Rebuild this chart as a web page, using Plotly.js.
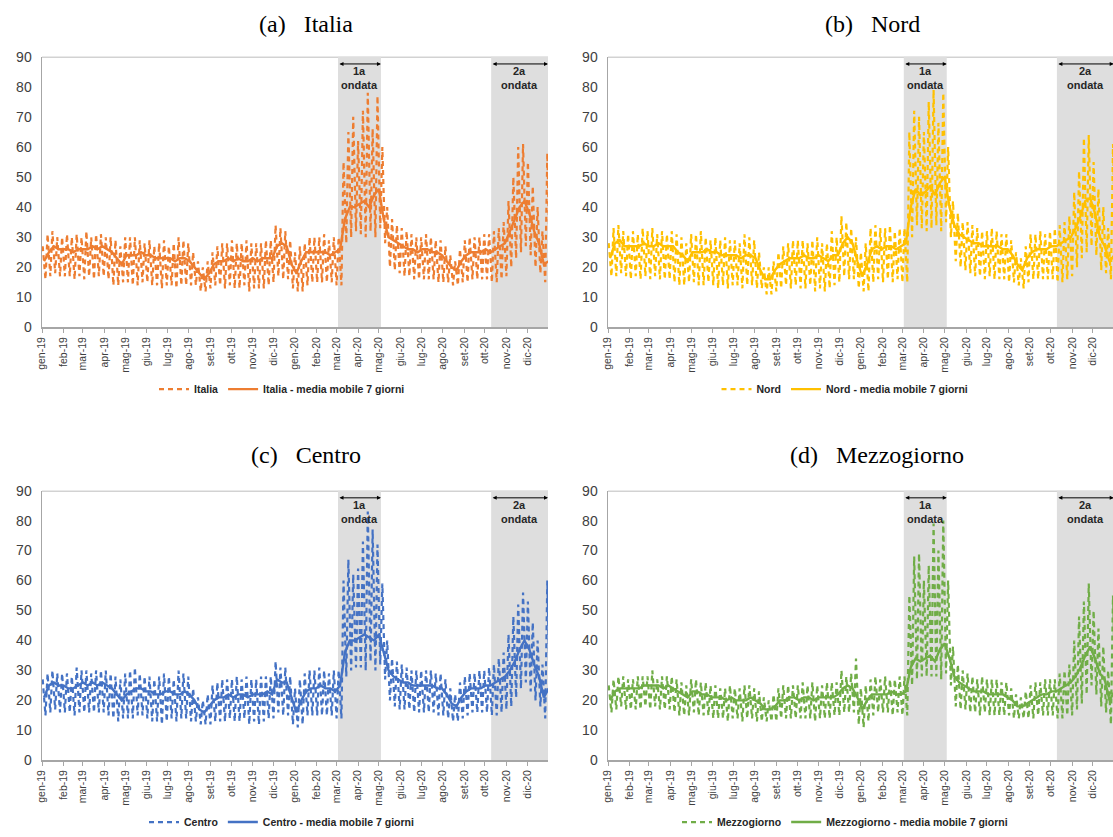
<!DOCTYPE html>
<html>
<head>
<meta charset="utf-8">
<script src="https://cdn.plot.ly/plotly-3.0.1.min.js"></script>
<style>html,body{margin:0;padding:0;background:#fff;}#chart{width:1113px;height:837px;}</style>
</head>
<body>
<div id="chart"></div>
<script>
// ---- Data (weekly readings from the picture; week i starts 2019-01-01 + 7*i) ----
const monthLabels = ["gen-19","feb-19","mar-19","apr-19","mag-19","giu-19","lug-19","ago-19","set-19","ott-19","nov-19","dic-19",
  "gen-20","feb-20","mar-20","apr-20","mag-20","giu-20","lug-20","ago-20","set-20","ott-20","nov-20","dic-20"];

// Italia
const italiaHigh = [27,31,32,30,30, 31,30,31,30, 32,30,31,31, 30,30,29,27,30, 30,30,29,28, 29,27,28,29, 27,28,30,29,28, 25,22,20,22, 25,27,28,28, 29,28,28,29,28, 28,28,29,29, 34,33,32,29,25,
  27,28,30,30, 30,31,29,30, 30,55,65,70,62, 72,78,66,77, 60,40,36,34, 33,32,31,30,30, 31,30,29,29, 27,24,22,26, 29,30,30,30,31, 31,32,33,35, 42,50,60,61, 55,47,40,32,58];
const italiaLow = [16,17,18,17,17, 17,16,17,16, 17,16,17,17, 16,14,14,15,15, 14,14,15,15, 14,14,13,14, 14,13,14,14,14, 14,12,12,13, 14,14,13,14, 13,13,14,12,13, 13,13,14,15, 17,16,16,13,12,
  12,14,15,15, 15,15,15,14, 14,28,30,32,31, 30,32,30,33, 28,20,19,18, 17,17,16,16,16, 16,16,15,15, 15,14,14,15, 15,16,16,16,16, 15,15,16,17, 20,23,25,27, 24,20,18,15,18];
const italiaMA = [22,25,27,26,26, 26,25,26,26, 26,27,26,27, 26,25,23,21,24, 24,24,25,24, 24,23,23,23, 23,22,23,23,22, 20,18,16,18, 21,22,22,23, 22,23,22,22,23, 22,23,23,23, 27,28,27,21,18,
  22,25,25,25, 25,25,24,25, 26,36,40,40,41, 42,40,44,46, 36,30,29,28, 27,26,26,25,26, 26,25,25,24, 22,20,19,22, 24,25,25,25,26, 25,26,27,28, 32,36,40,42, 38,32,28,21,22];

// Nord
const nordHigh = [28,33,34,32,31, 32,31,33,32, 33,31,32,31, 32,31,30,28,31, 31,32,30,29, 30,29,30,29, 29,28,31,30,29, 25,20,20,22, 25,27,28,29, 29,29,28,29,30, 28,28,32,30, 37,35,33,30,25,
  28,33,34,33, 33,34,32,33, 33,65,72,70,65, 75,79,68,78, 60,42,38,35, 35,34,33,32,32, 33,32,31,31, 29,25,23,27, 31,31,32,31,32, 33,34,35,37, 45,52,63,64, 55,46,40,33,61];
const nordLow = [17,17,18,17,16, 17,16,17,16, 17,16,16,16, 15,14,14,15,15, 14,14,15,14, 13,14,13,14, 14,13,14,14,13, 13,11,11,12, 13,14,13,14, 13,13,14,12,13, 12,13,14,15, 17,16,16,13,12,
  12,15,16,15, 16,15,16,15, 15,30,34,33,32, 33,34,32,35, 30,22,20,19, 18,17,17,16,17, 16,16,16,15, 15,14,13,15, 16,16,16,16,16, 15,15,16,17, 20,23,25,27, 24,19,18,16,18];
const nordMA = [23,28,29,27,27, 27,27,28,27, 27,28,27,27, 27,25,24,22,25, 25,25,26,25, 25,24,24,24, 24,23,24,24,23, 19,16,16,19, 21,22,23,23, 23,24,23,23,24, 23,22,24,24, 28,30,28,22,17,
  21,26,27,26, 27,27,26,27, 28,40,46,44,45, 47,44,48,50, 40,34,31,30, 29,28,28,27,27, 27,27,26,26, 24,21,19,23, 25,26,26,26,27, 27,28,29,30, 33,37,42,43, 38,30,27,22,24];

// Centro
const centroHigh = [27,29,30,29,29, 29,28,31,30, 30,29,30,30, 30,29,28,27,29, 30,31,29,28, 28,27,28,29, 28,27,30,29,28, 24,21,20,22, 25,26,27,27, 27,28,27,28,27, 27,28,28,28, 33,31,31,28,24,
  27,29,30,30, 31,30,29,30, 30,60,67,62,64, 73,83,77,72, 59,40,34,33, 32,31,30,30,30, 30,30,29,29, 27,24,22,26, 28,29,29,30,30, 31,32,34,36, 42,48,52,56, 53,46,40,32,60];
const centroLow = [15,16,17,16,16, 16,15,16,16, 16,16,16,16, 15,14,13,14,14, 14,15,15,14, 13,13,12,13, 14,13,14,14,13, 13,12,12,12, 13,13,13,14, 13,13,14,12,13, 12,13,14,14, 16,15,15,12,11,
  12,15,15,15, 15,15,15,14, 14,28,30,31,31, 30,33,30,32, 27,20,18,17, 17,17,16,16,16, 16,16,15,15, 14,13,13,14, 15,16,16,16,16, 15,15,16,17, 18,21,24,26, 23,20,18,14,17];
const centroMA = [21,25,26,25,25, 24,24,25,26, 25,26,25,26, 25,24,22,20,22, 23,24,24,23, 23,22,22,23, 23,22,22,23,22, 20,17,16,18, 20,21,21,22, 21,22,22,21,22, 22,22,23,22, 27,26,26,21,16,
  20,23,24,24, 25,24,24,23, 25,36,40,40,41, 42,41,40,42, 36,30,28,27, 26,26,25,25,25, 25,25,24,24, 22,19,18,21, 23,24,24,24,25, 25,26,27,28, 30,33,37,40, 37,32,28,21,24];

// Mezzogiorno
const mezzHigh = [25,27,28,28,27, 27,28,28,28, 30,27,28,28, 28,27,26,25,27, 27,26,26,25, 25,24,24,25, 24,24,25,25,24, 23,21,20,22, 24,25,25,25, 25,26,25,26,25, 25,26,26,26, 30,28,29,34,24,
  25,27,28,27, 28,27,27,28, 28,55,68,69,60, 65,79,70,80, 60,38,32,30, 29,28,27,28,27, 27,27,26,26, 24,22,21,23, 25,26,26,27,27, 27,29,30,32, 40,48,53,59, 50,44,38,30,55];
const mezzLow = [16,17,18,17,17, 17,17,18,17, 18,17,17,17, 16,15,15,15,16, 15,15,15,14, 14,14,13,14, 14,13,14,14,13, 13,13,13,13, 14,14,14,14, 14,14,14,13,14, 14,14,15,15, 16,16,16,12,11,
  13,15,16,16, 16,15,16,15, 15,25,27,28,28, 28,28,27,29, 25,18,17,17, 16,16,15,16,15, 15,15,15,15, 14,14,14,14, 14,15,15,15,15, 14,14,15,15, 17,19,22,25, 22,18,16,12,16];
const mezzMA = [20,23,24,24,24, 24,24,25,25, 25,25,24,25, 24,23,22,21,23, 23,22,22,21, 21,21,20,21, 20,20,20,21,20, 19,17,17,18, 20,20,21,21, 20,21,21,20,21, 21,21,21,22, 24,25,24,21,17,
  20,22,22,22, 22,23,22,22, 23,31,34,33,34, 35,33,37,39, 34,28,26,25, 24,23,23,23,22, 22,22,22,21, 20,18,18,19, 20,21,22,22,23, 23,24,25,26, 28,31,35,38, 34,29,27,20,23];

const waves = [
  {label: "<b>1a<br>ondata</b>", start: "2020-03-03", end: "2020-05-04"},
  {label: "<b>2a<br>ondata</b>", start: "2020-10-10", end: "2020-12-31"}
];

// ---- Helpers ----
const t0 = Date.UTC(2019, 0, 1);
const DAY = 86400000;
function d(n) { return new Date(t0 + n * DAY).toISOString().slice(0, 10); }
const monthStarts = monthLabels.map((_, i) => new Date(Date.UTC(2019, i, 1)).toISOString().slice(0, 10));

function dailyTrace(high, low, name, color, xa, ya, leg) {
  const x = [], y = [];
  for (let i = 0; i < high.length; i++) {
    x.push(d(7 * i + 1)); y.push(high[i]);
    x.push(d(7 * i + 5)); y.push(low[i]);
  }
  return {type: 'scatter', mode: 'lines', x, y, name: '<b>' + name + '</b>', xaxis: xa, yaxis: ya, legend: leg,
    line: {color, width: 2.2, dash: '5px,4px'}, hoverinfo: 'skip'};
}
function maTrace(ma, name, color, xa, ya, leg) {
  const x = ma.map((_, i) => d(7 * i + 3));
  return {type: 'scatter', mode: 'lines', x, y: ma, name: '<b>' + name + ' - media mobile 7 giorni</b>', xaxis: xa, yaxis: ya, legend: leg,
    line: {color, width: 2.4}, hoverinfo: 'skip'};
}

const panels = [
  {name: 'Italia', title: '(a)\u00a0\u00a0\u00a0Italia', color: '#ED7D31', high: italiaHigh, low: italiaLow, ma: italiaMA,
   xa: 'x', ya: 'y', leg: 'legend', xd: [42/1113, 548/1113], yd: [1-329/837, 1-57/837], rangeEnd: '2020-12-31', tx: 306/1113, ty: 1-24/837, lx: 282/1113, ly: 1-391/837},
  {name: 'Nord', title: '(b)\u00a0\u00a0\u00a0Nord', color: '#FFC000', high: nordHigh, low: nordLow, ma: nordMA,
   xa: 'x2', ya: 'y2', leg: 'legend2', xd: [608/1113, 1], yd: [1-329/837, 1-57/837], rangeEnd: '2020-12-30', tx: 872/1113, ty: 1-24/837, lx: 845/1113, ly: 1-391/837},
  {name: 'Centro', title: '(c)\u00a0\u00a0\u00a0Centro', color: '#4472C4', high: centroHigh, low: centroLow, ma: centroMA,
   xa: 'x3', ya: 'y3', leg: 'legend3', xd: [42/1113, 548/1113], yd: [1-764/837, 1-493/837], rangeEnd: '2020-12-31', tx: 306/1113, ty: 1-457/837, lx: 282/1113, ly: 1-826/837},
  {name: 'Mezzogiorno', title: '(d)\u00a0\u00a0\u00a0Mezzogiorno', color: '#70AD47', high: mezzHigh, low: mezzLow, ma: mezzMA,
   xa: 'x4', ya: 'y4', leg: 'legend4', xd: [608/1113, 1], yd: [1-764/837, 1-493/837], rangeEnd: '2020-12-30', tx: 877/1113, ty: 1-457/837, lx: 845/1113, ly: 1-826/837}
];

const FONT = 'Liberation Sans, Arial, sans-serif';
const traces = [];
const layout = {
  width: 1113, height: 837, margin: {l: 0, r: 0, t: 0, b: 0},
  paper_bgcolor: '#fff', plot_bgcolor: 'rgba(0,0,0,0)',
  font: {family: FONT, color: '#404040'},
  shapes: [], annotations: []
};

panels.forEach((p, k) => {
  traces.push(dailyTrace(p.high, p.low, p.name, p.color, p.xa, p.ya, p.leg));
  traces.push(maTrace(p.ma, p.name, p.color, p.xa, p.ya, p.leg));
  const xk = 'xaxis' + (k ? k + 1 : ''), yk = 'yaxis' + (k ? k + 1 : '');
  layout[xk] = {type: 'date', domain: p.xd, anchor: p.ya, range: ['2019-01-01', p.rangeEnd],
    showline: true, linecolor: '#A6A6A6', linewidth: 1.5, ticks: 'outside', ticklen: 4, tickcolor: '#A6A6A6',
    tickmode: 'array', tickvals: monthStarts, ticktext: monthLabels, tickangle: -90,
    tickfont: {family: FONT, size: 10.5, color: '#404040'}, showgrid: false, zeroline: false, fixedrange: true};
  layout[yk] = {domain: p.yd, anchor: p.xa, range: [0, 90], tick0: 0, dtick: 10,
    showline: true, linecolor: '#A6A6A6', linewidth: 1.5, ticks: '', ticklabelstandoff: 6,
    tickfont: {family: FONT, size: 14, color: '#404040'}, showgrid: false, zeroline: false, fixedrange: true};
  layout[p.leg] = {orientation: 'h', x: p.lx, xanchor: 'center', y: p.ly, yanchor: 'middle',
    font: {family: FONT, size: 10.5, color: '#262626'}, bgcolor: 'rgba(0,0,0,0)', itemwidth: 30, tracegroupgap: 0};
  layout.shapes.push({type: 'line', xref: p.xa, yref: p.ya, x0: '2019-01-01', x1: p.rangeEnd, y0: 90, y1: 90,
    line: {color: '#A6A6A6', width: 1.5}, layer: 'below'});
  waves.forEach(w => {
    layout.shapes.push({type: 'rect', xref: p.xa, yref: p.ya, x0: w.start, x1: w.end, y0: 0, y1: 90.5,
      fillcolor: '#DEDEDE', line: {width: 0}, layer: 'below'});
    layout.annotations.push({xref: p.xa, yref: p.ya, axref: p.xa, ayref: p.ya, x: w.end, y: 87.6, ax: w.start, ay: 87.6,
      text: '', showarrow: true, arrowhead: 2, arrowside: 'end+start', arrowsize: 0.8, arrowwidth: 1, arrowcolor: '#000'});
    const mid = new Date((Date.parse(w.start) + Date.parse(w.end)) / 2).toISOString().slice(0, 10);
    layout.annotations.push({xref: p.xa, yref: p.ya, x: mid, y: 83, text: w.label, showarrow: false,
      font: {family: FONT, size: 11, color: '#262626'}, xanchor: 'center', yanchor: 'middle'});
  });
  layout.annotations.push({xref: 'paper', yref: 'paper', x: p.tx, y: p.ty, text: p.title, showarrow: false,
    xanchor: 'center', yanchor: 'middle', font: {family: 'Liberation Serif, Times New Roman, serif', size: 24, color: '#000'}});
});

Plotly.newPlot('chart', traces, layout, {displayModeBar: false, staticPlot: true});
</script>
</body>
</html>
